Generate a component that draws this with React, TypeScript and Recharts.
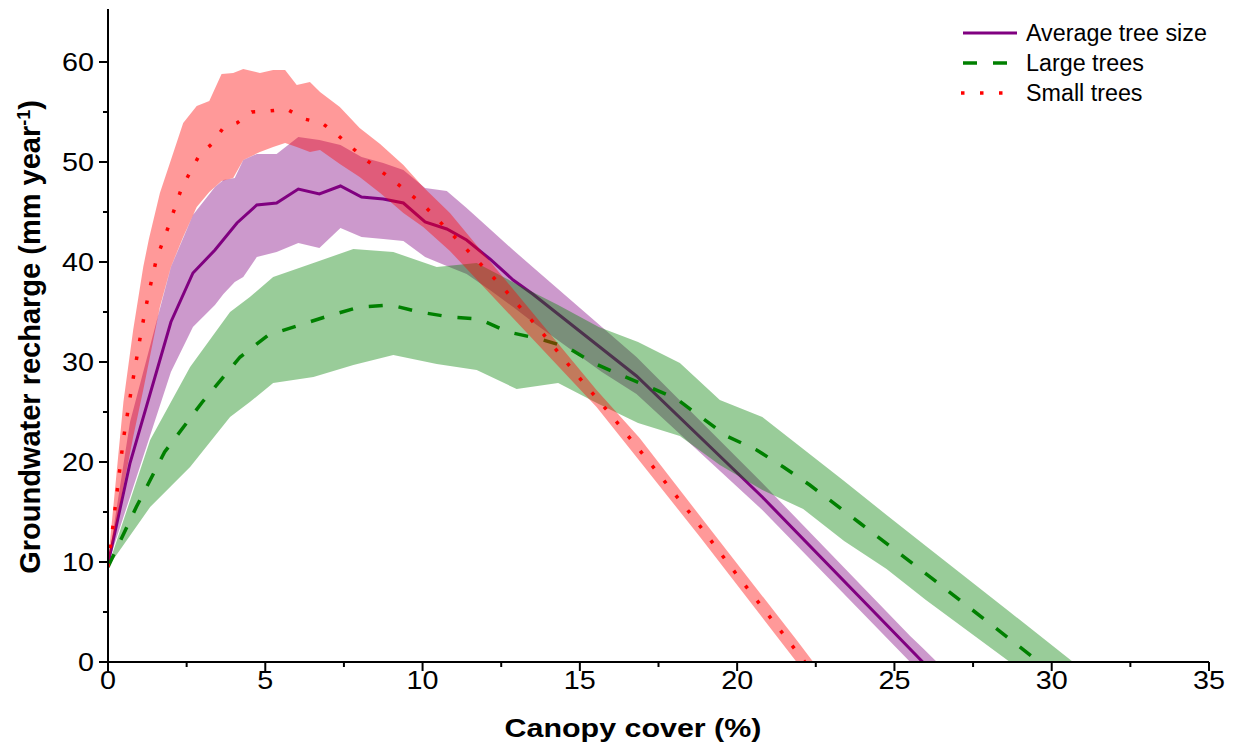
import React from 'react';
import { ComposedChart, Line, Area, XAxis, YAxis } from 'recharts';

// ---- Average tree size (purple) ----
const avgLineX = [0, 0.7, 2.0, 2.7, 3.4, 4.1, 4.73, 5.36, 6.05, 6.72, 7.39, 8.06, 8.75, 9.39, 10.08, 10.77, 11.4, 12.14, 12.88, 13.5, 16.8, 20.8, 25.9];
const avgLineY = [9.8, 19.9, 34.0, 38.9, 41.2, 43.9, 45.7, 45.9, 47.3, 46.8, 47.6, 46.5, 46.3, 45.9, 44.0, 43.3, 42.2, 40.3, 38.2, 36.8, 28.6, 16.5, 0];
const avgBandX = [0, 0.7, 2.0, 2.7, 3.4, 3.67, 4.03, 4.3, 4.73, 5.36, 6.05, 6.72, 7.39, 8.06, 8.75, 9.39, 10.08, 10.77, 11.4, 12.14, 12.88, 13.5, 15.7, 16.8, 20.8, 25.5, 25.9, 26.35];
const avgBandHi = [9.8, 24, 39.5, 44.7, 47.5, 48.2, 48.4, 50.2, 50.8, 50.8, 52.5, 52.2, 51.7, 50.5, 49.9, 49.2, 47.4, 47.1, 45.4, 43.3, 41.2, 39.5, 33.5, 30.5, 17.9, 2.6, 1.4, 0];
const avgBandLo = [9.8, 16.5, 29.0, 33.5, 35.7, 36.8, 38.0, 38.5, 40.5, 41.0, 41.9, 41.4, 43.4, 42.5, 42.3, 42.1, 40.5, 39.6, 38.8, 37.2, 35.5, 34.0, 29.0, 26.8, 15.2, 0, 0, 0];

// ---- Large trees (green) ----
const largeLineX = [0, 0.9, 1.8, 3.0, 4.2, 5.1, 6.1, 7.0, 8.0, 9.0, 9.9, 10.87, 11.8, 12.72, 13.73, 14.58, 15.43, 16.38, 17.28, 18.08, 19.66, 20.62, 21.47, 22.31, 23.9, 26.34, 29.6];
const largeLineY = [9.5, 15.5, 21.0, 26.0, 30.5, 32.7, 33.7, 34.6, 35.5, 35.7, 35.0, 34.5, 34.3, 33.0, 32.3, 31.5, 29.9, 28.6, 27.4, 26.3, 22.6, 21.2, 19.5, 17.7, 13.9, 8.0, 0];
const largeBandX = [0, 1.34, 2.61, 3.88, 4.51, 5.25, 6.53, 7.8, 9.07, 10.45, 11.72, 12.99, 14.31, 15.6, 16.85, 18.18, 19.45, 20.8, 22.1, 23.4, 24.75, 26.0, 28.67, 30.68];
const largeBandHi = [9.5, 22.2, 29.5, 35.0, 36.5, 38.5, 39.9, 41.3, 41.0, 39.5, 39.9, 37.8, 35.7, 33.5, 32.0, 29.9, 26.2, 24.5, 21.3, 18.1, 14.7, 11.6, 5.0, 0];
const largeBandLo = [9.5, 15.5, 19.5, 24.5, 26.0, 27.9, 28.5, 29.7, 30.7, 29.8, 29.2, 27.3, 27.9, 25.8, 23.9, 22.6, 19.7, 17.2, 15.3, 12.1, 9.3, 6.2, 0, 0];

// ---- Small trees (red) ----
const smallLineX = [0, 0.49, 0.77, 1.07, 1.28, 1.54, 1.94, 2.34, 2.89, 3.33, 3.66, 4.1, 4.57, 5.13, 5.68, 6.24, 6.8, 7.26, 8.17, 9.09, 10.03, 11.27, 12.51, 13.68, 14.83, 15.99, 17.0, 18.6, 20.02, 21.49, 22.15];
const smallLineY = [9.5, 22.3, 27.8, 33.3, 36.7, 40.3, 43.7, 47.4, 50.6, 51.9, 53.4, 53.9, 55.0, 55.1, 55.3, 54.3, 53.9, 52.8, 50.3, 48.1, 45.7, 41.7, 37.6, 33.4, 29.0, 24.7, 20.8, 14.5, 8.6, 2.7, 0];
const smallBandX = [0, 0.49, 0.8, 1.12, 1.3, 1.65, 2.0, 2.39, 2.82, 3.22, 3.61, 3.98, 4.3, 4.83, 5.25, 5.63, 6.0, 6.42, 6.74, 7.37, 8.0, 8.65, 9.39, 10.02, 10.87, 15.53, 16.9, 18.82, 21.89, 22.42];
const smallBandHi = [10, 26, 33.2, 39.5, 42.3, 46.9, 50.2, 53.9, 55.6, 56.1, 58.8, 58.9, 59.3, 58.9, 59.2, 59.2, 57.7, 58.0, 57.0, 55.5, 53.4, 51.8, 49.7, 47.5, 44.9, 27.2, 22.4, 14.6, 2.2, 0];
const smallBandLo = [9.5, 17.5, 22.5, 27.2, 30, 35.5, 39.5, 42.5, 45.5, 47.0, 48.1, 48.4, 50.2, 51.0, 51.5, 51.9, 51.5, 51.0, 51.2, 49.8, 48.5, 46.9, 44.9, 43.5, 41.1, 25.5, 20.1, 12.5, 0, 0];

// ---- Axis ticks ----
const xTicks = [0, 2.5, 5, 7.5, 10, 12.5, 15, 17.5, 20, 22.5, 25, 27.5, 30, 32.5, 35];
const yTicks = [0, 5, 10, 15, 20, 25, 30, 35, 40, 45, 50, 55, 60];

const seriesNames = ['Average tree size', 'Large trees', 'Small trees'];

const lineData = (xs: number[], ys: number[]) => xs.map((x, i) => ({ x, y: ys[i] }));
const bandData = (xs: number[], lo: number[], hi: number[]) => xs.map((x, i) => ({ x, r: [lo[i], hi[i]] }));

const avgLine = lineData(avgLineX, avgLineY);
const avgBand = bandData(avgBandX, avgBandLo, avgBandHi);
const largeLine = lineData(largeLineX, largeLineY);
const largeBand = bandData(largeBandX, largeBandLo, largeBandHi);
const smallLine = lineData(smallLineX, smallLineY);
const smallBand = bandData(smallBandX, smallBandLo, smallBandHi);

const FONT = 'Liberation Sans, Arial, Helvetica, sans-serif';

const XTick = (props: any) => {
  const { x, y, payload } = props;
  const v = payload.value;
  const major = v % 5 === 0;
  return (
    <g>
      <line x1={x} x2={x} y1={y} y2={y + (major ? 9 : 5)} stroke="#000" strokeWidth={2} />
      {major && (
        <text transform={`translate(${x} ${y + 27}) scale(1.15 1)`} textAnchor="middle" fontSize={25} fontFamily={FONT} fill="#000">
          {v}
        </text>
      )}
    </g>
  );
};

const YTick = (props: any) => {
  const { x, y, payload } = props;
  const v = payload.value;
  const major = v % 10 === 0;
  return (
    <g>
      <line x1={x} x2={x - (major ? 9 : 5)} y1={y} y2={y} stroke="#000" strokeWidth={2} />
      {major && (
        <text transform={`translate(${x - 14} ${y + 9}) scale(1.15 1)`} textAnchor="end" fontSize={25} fontFamily={FONT} fill="#000">
          {v}
        </text>
      )}
    </g>
  );
};

const XTitle = () => (
  <text transform="translate(633 737) scale(1.17 1)" textAnchor="middle" fontSize={26} fontWeight="bold" fontFamily={FONT} fill="#000">
    Canopy cover (%)
  </text>
);

const YTitle = () => (
  <text
    transform="translate(40 337) rotate(-90)"
    textAnchor="middle"
    fontSize={29}
    fontWeight="bold"
    fontFamily={FONT}
    fill="#000"
  >
    Groundwater recharge (mm year
    <tspan dy={-10} fontSize={18}>-1</tspan>
    <tspan dy={10}>)</tspan>
  </text>
);

export default function App() {
  return (
    <div style={{ position: 'absolute', left: 0, top: 0, width: 1239, height: 746, background: '#fff' }}>
      <ComposedChart width={1239} height={746} margin={{ top: 9, right: 30, bottom: 0, left: 0 }}>
        <XAxis
          type="number"
          dataKey="x"
          domain={[0, 35]}
          ticks={xTicks}
          interval={0}
          tickSize={0}
          tickMargin={0}
          tick={<XTick />}
          axisLine={{ stroke: '#000', strokeWidth: 2 }}
          height={84}
          allowDataOverflow
          label={{ content: () => <XTitle /> }}
        />
        <YAxis
          type="number"
          domain={[0, 65.3]}
          ticks={yTicks}
          interval={0}
          tickSize={0}
          tickMargin={0}
          tick={<YTick />}
          axisLine={{ stroke: '#000', strokeWidth: 2 }}
          width={108}
          allowDataOverflow
          label={{ content: () => <YTitle /> }}
        />
        <Area data={avgBand} dataKey="r" type="linear" fill="#800080" fillOpacity={0.4} stroke="none" isAnimationActive={false} zIndex={101} />
        <Line data={avgLine} dataKey="y" type="linear" stroke="#800080" strokeWidth={3} dot={false} isAnimationActive={false} zIndex={102} name={seriesNames[0]} />
        <Area data={largeBand} dataKey="r" type="linear" fill="#008000" fillOpacity={0.4} stroke="none" isAnimationActive={false} zIndex={103} />
        <Line data={largeLine} dataKey="y" type="linear" stroke="#008000" strokeWidth={3.5} strokeDasharray="14 16" dot={false} isAnimationActive={false} zIndex={104} name={seriesNames[1]} />
        <Area data={smallBand} dataKey="r" type="linear" fill="#ff0000" fillOpacity={0.4} stroke="none" isAnimationActive={false} zIndex={105} />
        <Line data={smallLine} dataKey="y" type="linear" stroke="#ff0000" strokeWidth={3.5} strokeDasharray="3.5 15.5" dot={false} isAnimationActive={false} zIndex={106} name={seriesNames[2]} />
      </ComposedChart>
      <svg width={300} height={110} style={{ position: 'absolute', left: 940, top: 10 }}>
        <line x1={23} x2={77} y1={23} y2={23} stroke="#800080" strokeWidth={3} />
        <text x={86} y={31} fontSize={23.3} fontFamily={FONT} fill="#000">{seriesNames[0]}</text>
        <line x1={23} x2={77} y1={53} y2={53} stroke="#008000" strokeWidth={3.5} strokeDasharray="14 16" />
        <text x={86} y={61} fontSize={23.3} fontFamily={FONT} fill="#000">{seriesNames[1]}</text>
        <line x1={21} x2={77} y1={83} y2={83} stroke="#ff0000" strokeWidth={3.5} strokeDasharray="3.5 15.5" />
        <text x={86} y={91} fontSize={23.3} fontFamily={FONT} fill="#000">{seriesNames[2]}</text>
      </svg>
    </div>
  );
}
